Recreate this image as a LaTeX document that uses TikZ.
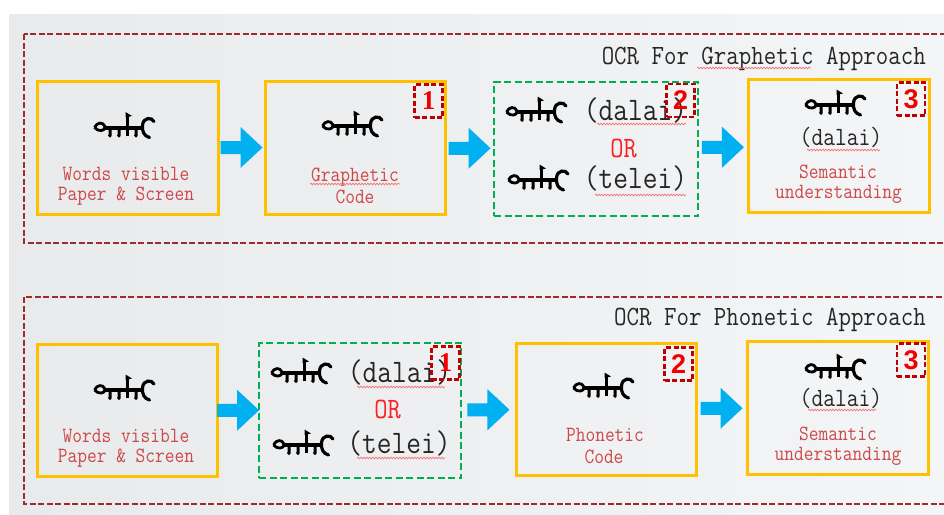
\documentclass[tikz,border=0pt]{standalone}
\usepackage{fontspec}
\setmainfont{Liberation Serif}
\newfontfamily\sansf{Liberation Sans}
\usetikzlibrary{calc,decorations.pathmorphing}
\definecolor{bgA}{RGB}{233,234,236}
\definecolor{bgB}{RGB}{244,245,247}
\definecolor{frameRed}{RGB}{155,45,45}
\definecolor{boxOrange}{RGB}{255,192,0}
\definecolor{boxGreen}{RGB}{0,176,80}
\definecolor{arrowCyan}{RGB}{0,176,240}
\definecolor{labelRed}{RGB}{205,72,72}
\definecolor{orRed}{RGB}{255,30,30}
\definecolor{numRed}{RGB}{192,0,0}
\definecolor{numText}{RGB}{240,0,0}
\definecolor{squig}{RGB}{240,120,120}
\newcommand{\tallt}[1]{\scalebox{1}[1.15]{#1}}
\newcommand{\blockarrow}[2]{%
  \fill[arrowCyan] ($(#1.east)!0.5!(#2.west)$) ++(-21,-6.5) -- ++(20,0) -- ++(0,-14)
    -- ++(22,20.5) -- ++(-22,20.5) -- ++(0,-14) -- ++(-20,0) -- cycle;}
\tikzset{
  outerframe/.style={draw=frameRed, line width=2.4pt, dash pattern=on 6pt off 2.5pt},
  obox/.style={draw=boxOrange, line width=3pt, inner sep=0},
  gbox/.style={draw=boxGreen, line width=2.8pt, dash pattern=on 7pt off 3.5pt, inner sep=0},
  numbox/.style={draw=numRed, line width=2.2pt, dash pattern=on 5pt off 2.5pt,
    minimum width=28, minimum height=33, inner sep=0, text=numText,
    font=\sansf\bfseries\fontsize{27}{27}\selectfont},
  lbl/.style={text=labelRed, font=\ttfamily\fontsize{18.9}{18.9}\selectfont, inner sep=0, anchor=base},
  roman/.style={text=black!85, font=\ttfamily\fontsize{#1}{#1}\selectfont, inner sep=0, anchor=base},
  ortext/.style={text=orRed, font=\ttfamily\fontsize{25.7}{25.7}\selectfont, inner sep=0, anchor=base},
  titletext/.style={text=black!85, font=\ttfamily\fontsize{24.2}{24.2}\selectfont, inner sep=0, anchor=base east},
  squiggle/.style={draw=squig, line width=0.7pt, decorate,
    decoration={snake, amplitude=0.9pt, segment length=3pt}},
  mglyph/.pic={
    \draw[line width=2.8pt, line join=round] (0.5,0) .. controls (3,-5.5) and (9,-6) .. (11,-1)
       .. controls (11.5,4) and (4,4.5) .. (0.5,0);
    \draw[line width=4pt] (10,0.3) -- (49,0.3);
    \foreach \t in {16,25,42} \draw[line width=3pt] (\t,0) -- (\t,8) -- (\t-1,9);
    \draw[line width=3pt] (33,8) -- (33,-11);
    \fill (31.5,-10) -- (31.5,-15.5) -- (38,-11.5) -- cycle;
    \draw[line width=3.2pt, line cap=round] (60,-6) .. controls (58,-10.5) and (49,-10.5) .. (48.5,-2)
       .. controls (48,4) and (50,8.5) .. (55.5,10);
  }
}
\begin{document}
\begin{tikzpicture}[x=1pt,y=-1pt]
\useasboundingbox (0,0) rectangle (944,514);
\clip (0,0) rectangle (944,514);
\fill[white] (0,0) rectangle (944,514);
\shade[left color=bgA, right color=bgB] (9,14) rectangle (944,514);

% outer frames
\draw[outerframe] (24,34) rectangle (960,243);
\draw[outerframe] (24,297) rectangle (960,504);
\node[titletext] (title1) at (926,64) {\tallt{OCR For Graphetic Approach}};
\node[titletext] (title2) at (926,325) {\tallt{OCR For Phonetic Approach}};

% ---------- top row ----------
\node[obox, minimum width=181, minimum height=133] (t1) at (127.5,147.5) {};
\node[obox, minimum width=180, minimum height=133] (t2) at (355,147.5) {};
\node[gbox, minimum width=204, minimum height=134] (tg) at (596,149) {};
\node[obox, minimum width=181, minimum height=133] (t4) at (838.5,145.5) {};

\blockarrow{t1}{t2}
\blockarrow{t2}{tg}
\blockarrow{tg}{t4}

\pic at (94,127.5) {mglyph};
\node[lbl] (t1a) at (126,180) {\tallt{Words visible}};
\node[lbl] (t1b) at (126,200) {\tallt{Paper \& Screen}};

\pic at (322,126) {mglyph};
\node[lbl] (t2a) at (355,181) {\tallt{Graphetic}};
\node[lbl] (t2b) at (355,203) {\tallt{Code}};
\node[numbox, font=\bfseries\fontsize{27}{27}\selectfont] (n1) at (428.5,101) {1};

\pic at (506,112) {mglyph};
\node[roman=28.6] (tgd) at (635.5,120) {\tallt{(dalai)}};
\node[ortext] (tgor) at (623.5,157) {\tallt{OR}};
\pic at (508,180) {mglyph};
\node[roman=28.6] (tgt) at (635.5,188) {\tallt{(telei)}};
\node[numbox] (n2) at (680.5,100.5) {2};

\pic at (805,105) {mglyph};
\node[roman=22.9] (t4d) at (841,145) {\tallt{(dalai)}};
\node[lbl] (t4a) at (838,178) {\tallt{Semantic}};
\node[lbl] (t4b) at (838.5,198) {\tallt{understanding}};
\node[numbox] (n3) at (911,99) {3};

% ---------- bottom row ----------
\node[obox, minimum width=180, minimum height=132] (b1) at (127,410) {};
\node[gbox, minimum width=202, minimum height=135] (bg) at (360,410.5) {};
\node[obox, minimum width=180, minimum height=132] (b3) at (606,409) {};
\node[obox, minimum width=181, minimum height=133] (b4) at (837.5,407.5) {};

\blockarrow{b1}{bg}
\blockarrow{bg}{b3}
\blockarrow{b3}{b4}

\pic at (94,390) {mglyph};
\node[lbl] (b1a) at (126,442) {\tallt{Words visible}};
\node[lbl] (b1b) at (126,462) {\tallt{Paper \& Screen}};

\pic at (271,373) {mglyph};
\node[roman=28.6] (bgd) at (399.5,382) {\tallt{(dalai)}};
\node[ortext] (bgor) at (387.5,418) {\tallt{OR}};
\pic at (273,445) {mglyph};
\node[roman=28.6] (bgt) at (399,453) {\tallt{(telei)}};
\node[numbox, font=\bfseries\fontsize{27}{27}\selectfont] (m1) at (445.5,363) {1};

\pic at (573,388) {mglyph};
\node[lbl] (b3a) at (605,441) {\tallt{Phonetic}};
\node[lbl] (b3b) at (604,463) {\tallt{Code}};
\node[numbox] (m2) at (678.5,364) {2};

\pic at (805,369) {mglyph};
\node[roman=22.9] (b4d) at (841,406) {\tallt{(dalai)}};
\node[lbl] (b4a) at (838,440) {\tallt{Semantic}};
\node[lbl] (b4b) at (838,460) {\tallt{understanding}};
\node[numbox] (m3) at (911,360) {3};

% spell-check squiggles
\draw[squiggle] (697,68) -- (811,68);
\draw[squiggle] (310,184) -- (400,184);
\draw[squiggle] (597,124) -- (686,124);
\draw[squiggle] (595,195) -- (686,195);
\draw[squiggle] (807,150) -- (880,150);
\draw[squiggle] (357,387) -- (445,387);
\draw[squiggle] (357,458) -- (445,458);
\draw[squiggle] (808,410) -- (876,410);
\end{tikzpicture}
\end{document}
